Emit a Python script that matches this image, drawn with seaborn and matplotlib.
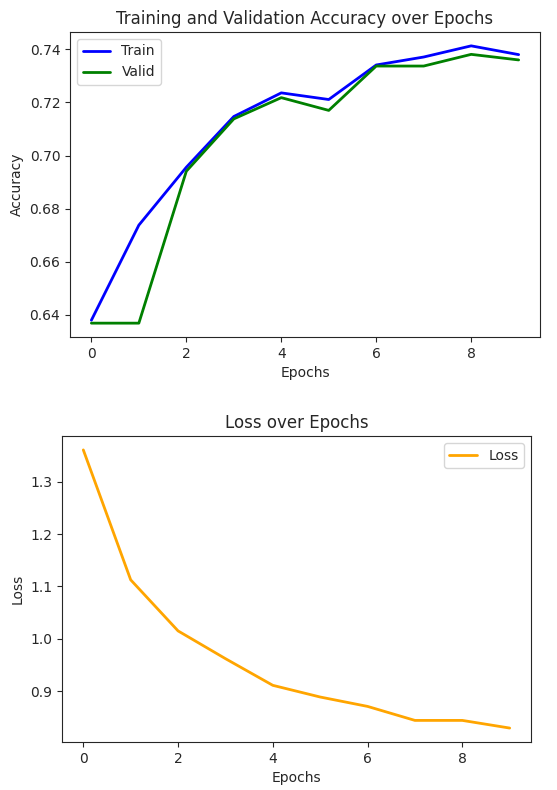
import pandas as pd
import seaborn as sns
import matplotlib
matplotlib.use('Agg')
import matplotlib.pyplot as plt

epochs = list(range(10))
train_acc = [0.6380, 0.6738, 0.6956, 0.7147, 0.7236, 0.7211, 0.7341, 0.7371, 0.7413, 0.7380]
valid_acc = [0.6369, 0.6369, 0.6941, 0.7138, 0.7218, 0.7170, 0.7337, 0.7337, 0.7381, 0.7360]
loss = [1.3605, 1.1127, 1.0153, 0.9624, 0.9115, 0.8892, 0.8713, 0.8446, 0.8446, 0.8300]


def plot_history():
    sns.set_style('ticks')
    plt.rcParams['font.family'] = ['DejaVu Sans']
    df = pd.DataFrame({'Epochs': epochs, 'Train': train_acc,
                       'Valid': valid_acc, 'Loss': loss})

    fig = plt.figure(figsize=(5.57, 7.9), dpi=100)

    # accuracy
    ax1 = fig.add_axes([0.1257, 0.5734, 0.8438, 0.3861])
    sns.lineplot(x='Epochs', y='Train', data=df, ax=ax1, color='blue', lw=2, label='Train')
    sns.lineplot(x='Epochs', y='Valid', data=df, ax=ax1, color='green', lw=2, label='Valid')
    ax1.set_title('Training and Validation Accuracy over Epochs', fontsize=12)
    ax1.set_xlabel('Epochs')
    ax1.set_ylabel('Accuracy')
    ax1.set_xticks([0, 2, 4, 6, 8])
    ax1.legend(loc='upper left')

    # loss
    ax2 = fig.add_axes([0.1113, 0.0608, 0.842, 0.3873])
    sns.lineplot(x='Epochs', y='Loss', data=df, ax=ax2, color='orange', lw=2, label='Loss')
    ax2.set_title('Loss over Epochs', fontsize=12)
    ax2.set_xlabel('Epochs')
    ax2.set_ylabel('Loss')
    ax2.set_xticks([0, 2, 4, 6, 8])
    ax2.legend(loc='upper right')

    fig.savefig('out.png', dpi=100)


if __name__ == '__main__':
    plot_history()
